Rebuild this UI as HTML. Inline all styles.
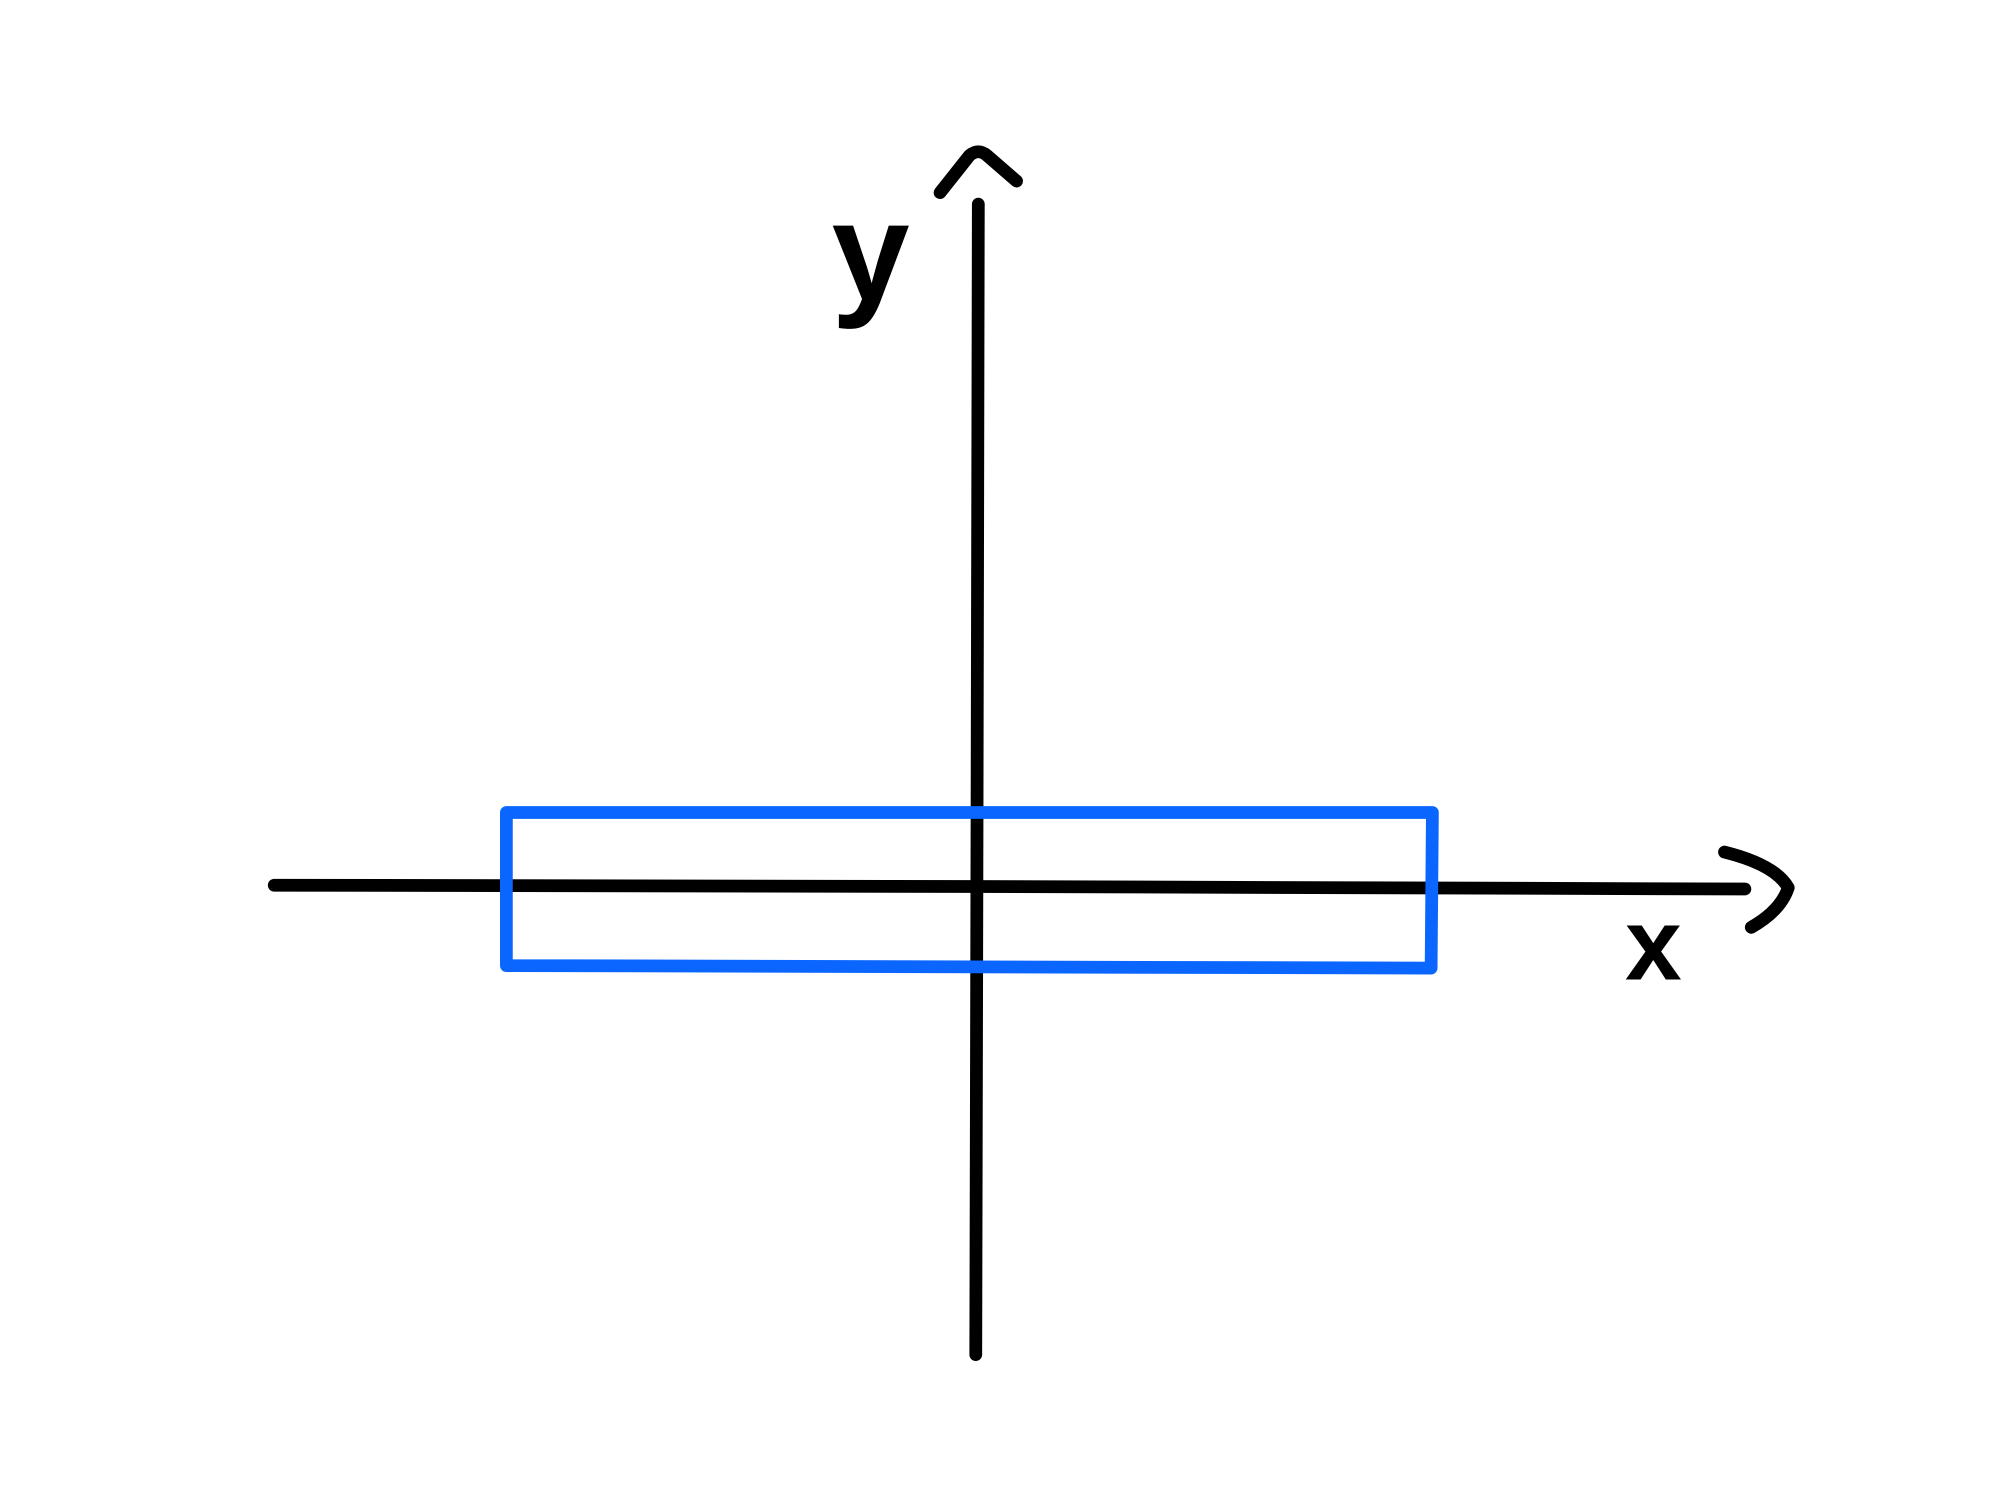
<!DOCTYPE html>
<html>
<head>
<meta charset="utf-8">
<style>
html,body{margin:0;padding:0;background:#fff;}
svg{display:block;}
</style>
</head>
<body>
<svg width="2000" height="1500" viewBox="0 0 1568 1176" xmlns="http://www.w3.org/2000/svg">
<rect width="1568" height="1176" fill="#fff"/>
<g fill="none" stroke="#000" stroke-width="10" stroke-linecap="round" stroke-linejoin="round">
  <path d="M767 160 L766 640 L765 1062"/>
  <path d="M737 151 L760 122 Q767 116 774 122 L797 142"/>
  <path d="M215 694 L760 695 L1368 697"/>
  <path d="M1352 668 Q1392 678 1402 696 Q1396 714 1373 727"/>
</g>
<path d="M397 637 L1123 637 L1122 759 L397 757 Z" fill="none" stroke="#0a66ff" stroke-width="10" stroke-linejoin="round" stroke-linecap="round"/>
<text x="652" y="235" font-family="'Liberation Sans', sans-serif" font-size="110" font-weight="bold" fill="#000">y</text>
<text x="1274" y="768" font-family="'Liberation Sans', sans-serif" font-size="80" font-weight="bold" fill="#000">x</text>
</svg>
</body>
</html>
